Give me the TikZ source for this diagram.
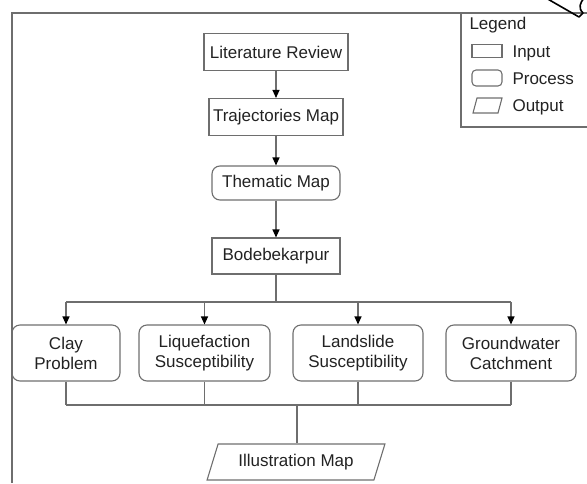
\documentclass[tikz,border=0pt]{standalone}
\usepackage{fontspec}
\setmainfont{Liberation Sans}
\usepackage{tikz}
\usetikzlibrary{
  arrows.meta,
  positioning,
  shapes.geometric
}
\definecolor{FlowLine}{HTML}{6E6E6E}
\definecolor{FlowText}{HTML}{222222}

\begin{document}
\begin{tikzpicture}[x=1pt,y=-1pt,
    font=\fontsize{17}{20}\selectfont,text=FlowText,
    inbox/.style={draw=FlowLine,line width=1.1pt,rectangle,inner sep=2pt,align=center},
    procbox/.style={inbox,rounded corners=8pt},
    outbox/.style={draw=FlowLine,line width=1.1pt,trapezium,trapezium left angle=67,
                   trapezium right angle=113,trapezium stretches=true,inner sep=2pt},
    link/.style={draw=FlowLine,line width=1.1pt},
    flow/.style={link,-{Triangle[width=7pt,length=8pt,color=black]}}]
  \useasboundingbox (0,0) rectangle (587,483);

  % frame and legend
  \draw[link] (12,483) -- (12,13) -- (587,13);
  \draw[link] (461,13) -- (461,127) -- (590,127);
  \node[anchor=west] (legtitle) at (466,25) {Legend};
  \node[inbox,minimum width=30pt,minimum height=13pt,inner sep=0pt] (leginput) at (487,51) {};
  \node[procbox,rounded corners=4pt,minimum width=30pt,minimum height=16pt,inner sep=0pt] (legproc) at (487,78) {};
  \draw[link] (473,113) -- (477,98) -- (502,98) -- (498,113) -- cycle;
  \node[anchor=west] at (509,53) {Input};
  \node[anchor=west] at (509,79) {Process};
  \node[anchor=west] at (509,107) {Output};

  % main chain
  \node[inbox,minimum width=144pt,minimum height=37pt] (litrev) at (276,52) {Literature Review};
  \node[inbox,minimum width=134pt,minimum height=37pt] (trajmap) at (276,117) {Trajectories Map};
  \node[procbox,minimum width=128pt,minimum height=34pt] (themmap) at (276,183) {Thematic Map};
  \node[inbox,minimum width=128pt,minimum height=36pt] (bode) at (276,256) {Bodebekarpur};

  % studies
  \node[procbox,minimum width=108pt,minimum height=56pt] (clay) at (66,353) {Clay\\Problem};
  \node[procbox,minimum width=131pt,minimum height=56pt] (liquef) at (204.5,353) {Liquefaction\\Susceptibility};
  \node[procbox,minimum width=130pt,minimum height=56pt] (landsl) at (358,353) {Landslide\\Susceptibility};
  \node[procbox,minimum width=130pt,minimum height=56pt] (ground) at (511,353) {Groundwater\\Catchment};

  \node[outbox,minimum width=178pt,minimum height=36pt] (illus) at (296,462) {Illustration Map};

  \coordinate (split) at (276,302);
  \coordinate (merge) at (297,405);

  \draw[flow] (litrev) -- (trajmap);
  \draw[flow] (trajmap) -- (themmap);
  \draw[flow] (themmap) -- (bode);
  \draw[link] (bode.south) -- (split);
  \draw[link] (clay.north |- split) -- (ground.north |- split);
  \foreach \n in {clay,liquef,landsl,ground}
    \draw[flow] (\n.north |- split) -- (\n.north);
  \foreach \n in {clay,liquef,landsl,ground}
    \draw[link] (\n.south) -- (\n.south |- merge);
  \draw[link] (clay.south |- merge) -- (ground.south |- merge);
  \draw[link] (merge) -- (merge |- illus.north);

  % stray mark at the corner
  \draw[black,line width=1.6pt,line join=round]
    (546,-2) -- (579,17) -- (583,13) .. controls (578,8) and (580,3) .. (584,-2);
\end{tikzpicture}
\end{document}
